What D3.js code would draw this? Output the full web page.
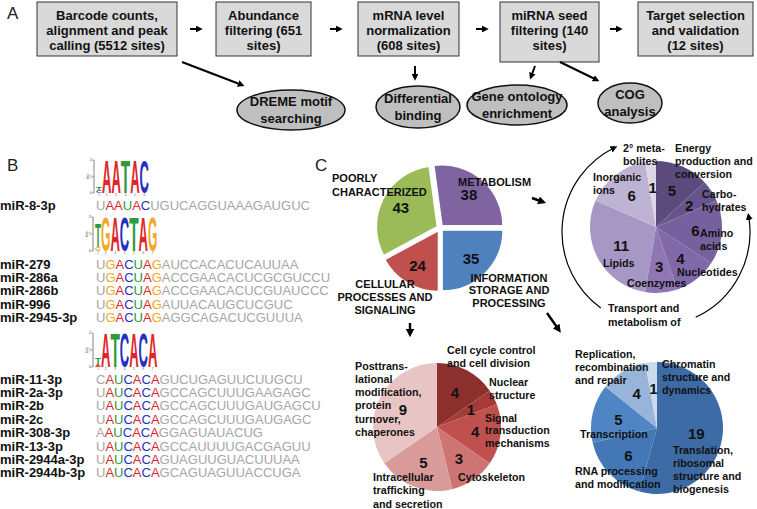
<!DOCTYPE html>
<html>
<head>
<meta charset="utf-8">
<script src="https://cdn.jsdelivr.net/npm/d3@7"></script>
<style>
  body { margin: 0; background: #fff; }
  svg { display: block; font-family: "Liberation Sans", Arial, sans-serif; }
  .lbl { font-weight: bold; font-size: 10.7px; fill: #111; }
  .cap { font-weight: bold; font-size: 11px; fill: #111; }
  .num { font-weight: bold; font-size: 15px; fill: #111; }
</style>
</head>
<body>
<div id="chart"></div>
<script>
// ---------- data ----------
// panel A: pipeline
const stepLines = [
  ["Barcode counts,", "alignment and peak", "calling (5512 sites)"],
  ["Abundance", "filtering (651", "sites)"],
  ["mRNA level", "normalization", "(608 sites)"],
  ["miRNA seed", "filtering (140", "sites)"],
  ["Target selection", "and  validation", "(12 sites)"]
];
const analysisLines = [
  ["DREME motif", "searching"],
  ["Differential", "binding"],
  ["Gene ontology", "enrichment"],
  ["COG", "analysis"]
];

// panel B: seed families (logo columns listed bottom -> top, heights in bits)
const logo1 = [[["C", 0.12], ["T", 0.2]], [["A", 2]], [["A", 2]], [["T", 2]], [["A", 2]], [["C", 2]]];
const logo2 = [[["G", 0.25], ["T", 1.4]], [["G", 2]], [["A", 2]], [["C", 2]], [["T", 2]], [["A", 2]], [["G", 2]]];
const logo3 = [[["A", 0.18], ["T", 0.42]], [["A", 2]], [["T", 2]], [["C", 2]], [["A", 2]], [["C", 2]], [["A", 2]]];

const fam1Names = ["miR-8-3p"];
const fam1Seqs = ["UAAUACUGUCAGGUAAAGAUGUC"];
const fam2Names = ["miR-279", "miR-286a", "miR-286b", "miR-996", "miR-2945-3p"];
const fam2Seqs = [
  "UGACUAGAUCCACACUCAUUAA",
  "UGACUAGACCGAACACUCGCGUCCU",
  "UGACUAGACCGAACACUCGUAUCCC",
  "UGACUAGAUUACAUGCUCGUC",
  "UGACUAGAGGCAGACUCGUUUA"
];
const fam3Names = ["miR-11-3p", "miR-2a-3p", "miR-2b", "miR-2c", "miR-308-3p", "miR-13-3p", "miR-2944a-3p", "miR-2944b-3p"];
const fam3Seqs = [
  "CAUCACAGUCUGAGUUCUUGCU",
  "UAUCACAGCCAGCUUUGAAGAGC",
  "UAUCACAGCCAGCUUUGAUGAGCU",
  "UAUCACAGCCAGCUUUGAUGAGC",
  "AAUCACAGGAGUAUACUG",
  "UAUCACAGCCAUUUUGACGAGUU",
  "UAUCACAGUAGUUGUACUUUAA",
  "UAUCACAGCAGUAGUUACCUGA"
];

// panel C: COG classes
const cogNames = ["METABOLISM", "INFORMATION STORAGE AND PROCESSING", "CELLULAR PROCESSES AND SIGNALING", "POORLY CHARACTERIZED"];
const cogCounts = [38, 35, 24, 43];
const cogColors = ["#8064a2", "#4f81bd", "#c0504d", "#9bbb59"];

const metabNames = ["Energy production and conversion", "Carbohydrates", "Amino acids", "Nucleotides", "Coenzymes", "Lipids", "Inorganic ions", "2° metabolites"];
const metabCounts = [5, 2, 6, 4, 3, 11, 6, 1];
const metabColors = ["#5b4a7c", "#68548d", "#77609e", "#8168a9", "#8e77b3", "#a797c4", "#bfb3d4", "#ddd6e7"];

const cellNames = ["Cell cycle control and cell division", "Nuclear structure", "Signal transduction mechanisms", "Cytoskeleton", "Intracellular trafficking and secretion", "Posttranslational modification, protein turnover, chaperones"];
const cellCounts = [4, 1, 4, 3, 5, 9];
const cellColors = ["#8c302d", "#a43b37", "#c0504d", "#cd7572", "#d99b99", "#e8c5c4"];

const infoNames = ["Translation, ribosomal structure and biogenesis", "RNA processing and modification", "Transcription", "Replication, recombination and repair", "Chromatin structure and dynamics"];
const infoCounts = [19, 6, 5, 4, 1];
const infoColors = ["#3c6ba5", "#4477b6", "#4f85c4", "#98b4d9", "#cbd9ed"];

// ---------- layout ----------
const W = 757, H = 509;
const svg = d3.select("#chart").append("svg").attr("width", W).attr("height", H);
svg.append("rect").attr("width", W).attr("height", H).attr("fill", "#fff");

const defs = svg.append("defs");
defs.append("marker").attr("id", "head")
  .attr("viewBox", "0 0 10 10").attr("refX", 6).attr("refY", 5)
  .attr("markerWidth", 3.4).attr("markerHeight", 3.4).attr("orient", "auto")
  .append("path").attr("d", "M0,0L10,5L0,10z").attr("fill", "#000");
defs.append("marker").attr("id", "headThin")
  .attr("viewBox", "0 0 10 10").attr("refX", 6).attr("refY", 5)
  .attr("markerUnits", "userSpaceOnUse")
  .attr("markerWidth", 7).attr("markerHeight", 7).attr("orient", "auto")
  .append("path").attr("d", "M0,0L10,5L0,10z").attr("fill", "#000");

function multiLabel(g, lines, x, y, anchor, lh, cls) {
  const t = g.append("text").attr("class", cls).attr("text-anchor", anchor);
  lines.forEach((s, i) => {
    t.append("tspan").attr("x", x).attr("y", y + i * lh).attr("dy", "0.35em").text(s);
  });
  return t;
}

function arrow(g, x1, y1, x2, y2, w) {
  g.append("line")
    .attr("x1", x1).attr("y1", y1).attr("x2", x2).attr("y2", y2)
    .attr("stroke", "#000").attr("stroke-width", w || 2)
    .attr("marker-end", "url(#head)");
}

// panel letters
[["A", 7, 19], ["B", 7, 171], ["C", 315, 171]].forEach(([s, x, y]) => {
  svg.append("text").attr("x", x).attr("y", y).attr("font-size", 17).attr("fill", "#222").text(s);
});

// ---------- panel A ----------
const gA = svg.append("g");
const boxes = [
  { x0: 37, x1: 177, y0: 2, y1: 56 },
  { x0: 216, x1: 311, y0: 2, y1: 56 },
  { x0: 358, x1: 459, y0: 2, y1: 56 },
  { x0: 500, x1: 599, y0: 2, y1: 62 },
  { x0: 638, x1: 753, y0: 2, y1: 56 }
];
boxes.forEach((b, i) => {
  gA.append("rect").attr("x", b.x0).attr("y", b.y0)
    .attr("width", b.x1 - b.x0).attr("height", b.y1 - b.y0)
    .attr("fill", "#d9d9d9").attr("stroke", "#333").attr("stroke-width", 1);
  multiLabel(gA, stepLines[i], (b.x0 + b.x1) / 2, 15, "middle", 15, "")
    .attr("font-size", 13).attr("font-weight", "bold").attr("fill", "#111");
});
[[190, 203], [330, 343], [476, 489], [610, 623]].forEach(([a, b]) => arrow(gA, a, 29, b - 3, 29, 2));

const ovals = [
  { cx: 291, cy: 110, rx: 54, ry: 20 },
  { cx: 418, cy: 107, rx: 42, ry: 21 },
  { cx: 517, cy: 105, rx: 50, ry: 20 },
  { cx: 630, cy: 103, rx: 32, ry: 20 }
];
ovals.forEach((o, i) => {
  gA.append("ellipse").attr("cx", o.cx).attr("cy", o.cy).attr("rx", o.rx).attr("ry", o.ry)
    .attr("fill", "#bfbfbf").attr("stroke", "#111").attr("stroke-width", 1.5);
  multiLabel(gA, analysisLines[i], o.cx, o.cy - 8.5, "middle", 17, "")
    .attr("font-size", 13).attr("font-weight", "bold").attr("fill", "#111");
});
arrow(gA, 182, 62, 242, 85, 2);
arrow(gA, 415, 66, 415, 78, 2);
arrow(gA, 535, 66, 531, 77, 2);
arrow(gA, 560, 62, 597, 80, 2);

// ---------- panel B ----------
const gB = svg.append("g");
const nucColor = { A: "#e0262a", C: "#2430c4", G: "#f4a823", U: "#2e9a3c", T: "#2e9a3c" };

function drawLogo(cols, x0, base, top) {
  const g = gB.append("g");
  const y = d3.scaleLinear().domain([0, 2]).range([base, top]);
  // first column is narrow, rest equal
  const widths = cols.map((c, i) => (i === 0 ? 6 : 9.4));
  let xs = [x0 + 2];
  widths.forEach((w, i) => xs.push(xs[i] + w));
  g.append("line").attr("x1", x0).attr("x2", x0).attr("y1", y(0)).attr("y2", y(2))
    .attr("stroke", "#333").attr("stroke-width", 0.6);
  [0, 1, 2].forEach(v => {
    g.append("line").attr("x1", x0 - 1.5).attr("x2", x0).attr("y1", y(v)).attr("y2", y(v))
      .attr("stroke", "#333").attr("stroke-width", 0.5);
    g.append("text").attr("x", x0 - 2).attr("y", y(v) + 1.3).attr("text-anchor", "end")
      .attr("font-size", 3.5).attr("fill", "#333").text(v);
  });
  g.append("text").attr("transform", `translate(${x0 - 5},${y(1)}) rotate(-90)`)
    .attr("text-anchor", "middle").attr("font-size", 3.5).attr("fill", "#333").text("bits");
  cols.forEach((stack, i) => {
    let acc = 0;
    stack.forEach(([ch, bits]) => {
      const yb = y(acc), h = y(acc) - y(acc + bits);
      acc += bits;
      const t = g.append("text").text(ch).attr("font-size", 100).attr("font-weight", "bold")
        .attr("fill", nucColor[ch]);
      const tw = t.node().getComputedTextLength();
      t.attr("transform", `translate(${xs[i]},${yb}) scale(${widths[i] / tw},${h / 71.6})`);
    });
    g.append("text").attr("x", xs[i] + widths[i] / 2).attr("y", base + 3.2)
      .attr("text-anchor", "middle").attr("font-size", 3).attr("fill", "#555").text(i + 1);
  });
}
drawLogo(logo1, 94, 193, 160);
drawLogo(logo2, 93, 251, 217);
drawLogo(logo3, 93, 367, 333);

function drawFamily(names, seqs, y0, seedEnd) {
  names.forEach((n, i) => {
    const yy = y0 + i * 13.4;
    gB.append("text").attr("x", 0).attr("y", yy).attr("dy", "0.35em")
      .attr("font-size", 13).attr("font-weight", "bold").attr("fill", "#111").text(n);
    const t = gB.append("text").attr("x", 96).attr("y", yy).attr("dy", "0.35em")
      .attr("font-size", 13).attr("fill", "#a6a6a6");
    seqs[i].split("").forEach((c, k) => {
      t.append("tspan").attr("fill", k >= 1 && k <= seedEnd ? nucColor[c] : "#a6a6a6").text(c);
    });
  });
}
drawFamily(fam1Names, fam1Seqs, 205, 5);
drawFamily(fam2Names, fam2Seqs, 264, 6);
drawFamily(fam3Names, fam3Seqs, 379, 6);

// ---------- panel C ----------
const gC = svg.append("g");

function drawPie(counts, colors, cx, cy, r, startAngle, explode, numK) {
  const g = gC.append("g").attr("transform", `translate(${cx},${cy})`);
  const pie = d3.pie().sort(null).value(d => d)
    .startAngle(startAngle).endAngle(startAngle + 2 * Math.PI);
  const arc = d3.arc().innerRadius(0).outerRadius(r);
  const numArc = d3.arc().innerRadius(r * numK).outerRadius(r * numK);
  const arcs = pie(counts);
  arcs.forEach((a, i) => {
    const mid = (a.startAngle + a.endAngle) / 2;
    const dx = Math.sin(mid) * explode, dy = -Math.cos(mid) * explode;
    g.append("path").attr("d", arc(a)).attr("fill", colors[i])
      .attr("transform", `translate(${dx},${dy})`)
      .attr("stroke", explode ? "#fff" : "none").attr("stroke-width", explode ? 1.5 : 0);
  });
  arcs.forEach((a, i) => {
    const [x, y] = numArc.centroid(a);
    g.append("text").attr("class", "num").attr("x", x).attr("y", y)
      .attr("dy", "0.36em").attr("text-anchor", "middle").text(a.data);
  });
}

// main pie: metabolism slice ends at 3 o'clock
const mainStart = Math.PI / 2 - cogCounts[0] / d3.sum(cogCounts) * 2 * Math.PI;
drawPie(cogCounts, cogColors, 440, 228, 61, mainStart, 3, 0.72);
drawPie(metabCounts, metabColors, 656, 227, 66, 0, 0, 0.6);
drawPie(cellCounts, cellColors, 437, 427, 64, 0, 0, 0.6);
drawPie(infoCounts, infoColors, 657, 428, 66, 0, 0, 0.6);

// main pie labels
multiLabel(gC, ["POORLY", "CHARACTERIZED"], 332, 178, "start", 14, "cap");
multiLabel(gC, ["METABOLISM"], 458, 182, "start", 13, "cap");
multiLabel(gC, ["INFORMATION", "STORAGE AND", "PROCESSING"], 509, 278, "middle", 12.6, "cap");
multiLabel(gC, ["CELLULAR", "PROCESSES AND", "SIGNALING"], 385, 284, "middle", 13, "cap");

// metabolism labels
multiLabel(gC, ["2° meta-", "bolites"], 623, 148, "start", 13.2, "lbl");
multiLabel(gC, ["Energy", "production and", "conversion"], 675, 148, "start", 13.2, "lbl");
multiLabel(gC, ["Inorganic", "ions"], 593, 177, "start", 13.6, "lbl");
multiLabel(gC, ["Carbo-", "hydrates"], 702, 194, "start", 13.2, "lbl");
multiLabel(gC, ["Amino", "acids"], 700, 233, "start", 13.2, "lbl");
multiLabel(gC, ["Nucleotides"], 677, 272, "start", 13, "lbl");
multiLabel(gC, ["Coenzymes"], 627, 283, "start", 13, "lbl");
multiLabel(gC, ["Lipids"], 603, 263, "start", 13, "lbl");
multiLabel(gC, ["Transport and", "metabolism of"], 608, 308, "start", 14, "lbl");

// cellular labels
multiLabel(gC, ["Cell cycle control", "and cell division"], 447, 350, "start", 13, "lbl");
multiLabel(gC, ["Nuclear", "structure"], 489, 382, "start", 13, "lbl");
multiLabel(gC, ["Signal", "transduction", "mechanisms"], 485, 418, "start", 12.7, "lbl");
multiLabel(gC, ["Cytoskeleton"], 458, 477, "start", 13, "lbl");
multiLabel(gC, ["Intracellular", "trafficking", "and secretion"], 373, 477, "start", 13.4, "lbl");
multiLabel(gC, ["Posttrans-", "lational", "modification,", "protein", "turnover,", "chaperones"], 355, 366, "start", 13.2, "lbl");

// information labels
multiLabel(gC, ["Replication,", "recombination", "and repair"], 575, 354, "start", 13, "lbl");
multiLabel(gC, ["Chromatin", "structure and", "dynamics"], 662, 364, "start", 13, "lbl");
multiLabel(gC, ["Transcription"], 580, 434, "start", 13, "lbl");
multiLabel(gC, ["RNA processing", "and modification"], 575, 471, "start", 13, "lbl");
multiLabel(gC, ["Translation,", "ribosomal", "structure and", "biogenesis"], 673, 450, "start", 13, "lbl");

// arrows in C
arrow(gC, 532, 198, 543, 202, 2.4);
arrow(gC, 410, 323, 410, 334, 2.4);
arrow(gC, 547, 313, 559, 330, 2.4);

// circular arrows around metabolism pie
const ring = { cx: 656, cy: 232, r: 94 };
function ringArc(a0deg, a1deg, ccw) {
  const p = d3.path();
  const t0 = (a0deg - 90) * Math.PI / 180, t1 = (a1deg - 90) * Math.PI / 180;
  p.moveTo(ring.cx + ring.r * Math.cos(t0), ring.cy + ring.r * Math.sin(t0));
  p.arc(ring.cx, ring.cy, ring.r, t0, t1, ccw);
  return p.toString();
}
gC.append("path").attr("d", ringArc(216, 334, false)).attr("fill", "none")
  .attr("stroke", "#000").attr("stroke-width", 1.2).attr("marker-end", "url(#headThin)");
gC.append("path").attr("d", ringArc(155, 80, true)).attr("fill", "none")
  .attr("stroke", "#000").attr("stroke-width", 1.2).attr("marker-end", "url(#headThin)");
</script>
</body>
</html>
